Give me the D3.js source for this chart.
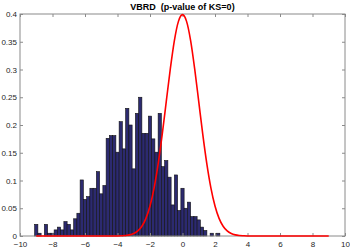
<!DOCTYPE html>
<html>
<head>
<meta charset="utf-8">
<script src="https://cdn.jsdelivr.net/npm/d3@7"></script>
<style>
  html, body { margin: 0; padding: 0; background: #fff; }
  svg { display: block; }
</style>
</head>
<body>
<svg id="chart" width="350" height="250"></svg>
<script>
// ---- data ----
const titleText = "VBRD  (p-value of KS=0)";
const binStart = -9.1;   // left edge of first bin (data units)
const binWidth = 0.2;    // bin width (data units)
const density = [
  0.021, 0.005, 0.000, 0.021, 0.005, 0.005, 0.011, 0.016, 0.011, 0.026,
  0.021, 0.011, 0.031, 0.041, 0.101, 0.066, 0.071, 0.086, 0.086, 0.116,
  0.076, 0.091, 0.176, 0.181, 0.181, 0.151, 0.206, 0.157, 0.230, 0.200,
  0.121, 0.221, 0.250, 0.185, 0.185, 0.216, 0.175, 0.151, 0.221, 0.125,
  0.136, 0.106, 0.056, 0.110, 0.046, 0.086, 0.050, 0.061, 0.035, 0.035,
  0.029, 0.016, 0.010, 0.000, 0.005, 0.000, 0.005
];
const curveX = [-9, -4, -3.75, -3.5, -3.25, -3, -2.75, -2.5, -2.25, -2, -1.75, -1.5, -1.25, -1, -0.75, -0.5, -0.25,
  0, 0.25, 0.5, 0.75, 1, 1.25, 1.5, 1.75, 2, 2.25, 2.5, 2.75, 3, 3.25, 3.5, 3.75, 4, 9];
const curveY = [0, 0.0001, 0.0004, 0.0009, 0.0020, 0.0044, 0.0091, 0.0175, 0.0317, 0.0540, 0.0863, 0.1295, 0.1826, 0.2420, 0.3011, 0.3521, 0.3867,
  0.3989, 0.3867, 0.3521, 0.3011, 0.2420, 0.1826, 0.1295, 0.0863, 0.0540, 0.0317, 0.0175, 0.0091, 0.0044, 0.0020, 0.0009, 0.0004, 0.0001, 0];
const xTicks = [-10, -8, -6, -4, -2, 0, 2, 4, 6, 8, 10];
const yTicks = [0, 0.05, 0.1, 0.15, 0.2, 0.25, 0.3, 0.35, 0.4];

// ---- layout ----
const W = 350, H = 250;
const L = 20, R = 345, T = 14, B = 236;
const font = "'Liberation Sans', Arial, Helvetica, sans-serif";
const axisColor = "#8a8a8a";
const textColor = "#262626";

const svg = d3.select("#chart");
const x = d3.scaleLinear().domain([-10, 10]).range([L, R]);
const y = d3.scaleLinear().domain([0, 0.4]).range([B, T]);

// bars
const bins = density.map((v, i) => ({ x0: binStart + i * binWidth, x1: binStart + (i + 1) * binWidth, v }));
svg.append("g")
  .selectAll("rect")
  .data(bins.filter(d => d.v > 0))
  .join("rect")
  .attr("x", d => x(d.x0))
  .attr("width", d => x(d.x1) - x(d.x0))
  .attr("y", d => y(d.v))
  .attr("height", d => y(0) - y(d.v))
  .attr("fill", "#2c2a70")
  .attr("stroke", "#111")
  .attr("stroke-width", 0.6);

// axes (inward ticks)
function styleAxis(g) {
  g.select(".domain").remove();
  g.selectAll(".tick line").attr("stroke", axisColor);
  g.selectAll(".tick text").attr("fill", textColor).style("font-family", font).style("font-size", "8px");
}
svg.append("g").attr("transform", `translate(0,${B})`)
  .call(d3.axisBottom(x).tickValues(xTicks).tickSizeInner(-3).tickSizeOuter(0).tickPadding(5).tickFormat(d3.format("d")))
  .call(styleAxis);
svg.append("g").attr("transform", `translate(0,${T})`)
  .call(d3.axisTop(x).tickValues(xTicks).tickSizeInner(-3).tickSizeOuter(0).tickFormat(""))
  .call(styleAxis);
svg.append("g").attr("transform", `translate(${L},0)`)
  .call(d3.axisLeft(y).tickValues(yTicks).tickSizeInner(-3).tickSizeOuter(0).tickPadding(3).tickFormat(d => d === 0 ? "0" : d3.format("")(+d.toFixed(2))))
  .call(styleAxis);
svg.append("g").attr("transform", `translate(${R},0)`)
  .call(d3.axisRight(y).tickValues(yTicks).tickSizeInner(-3).tickSizeOuter(0).tickFormat(""))
  .call(styleAxis);

// box
svg.append("rect")
  .attr("x", L).attr("y", T).attr("width", R - L).attr("height", B - T)
  .attr("fill", "none").attr("stroke", axisColor).attr("stroke-width", 1);

// normal curve
const line = d3.line().x((d, i) => x(curveX[i])).y(d => y(d)).curve(d3.curveMonotoneX);
svg.append("path")
  .datum(curveY)
  .attr("d", line)
  .attr("fill", "none")
  .attr("stroke", "#ff0000")
  .attr("stroke-width", 1.6);

// title
svg.append("text")
  .attr("x", (L + R) / 2).attr("y", 10)
  .attr("text-anchor", "middle")
  .attr("xml:space", "preserve")
  .style("white-space", "pre")
  .style("font-family", font).style("font-size", "9px").style("font-weight", "bold")
  .attr("fill", "#000")
  .text(titleText);
</script>
</body>
</html>
